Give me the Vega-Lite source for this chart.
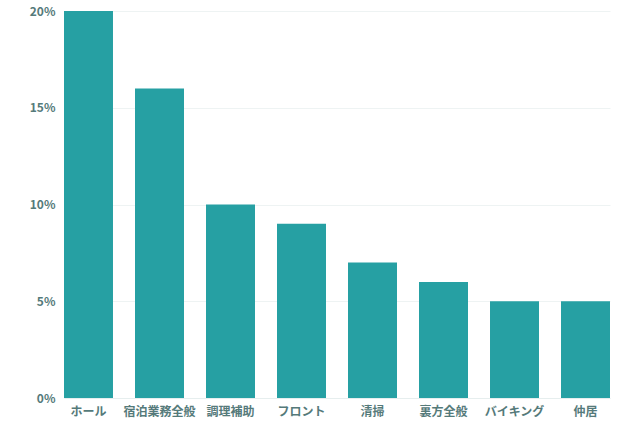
{
  "$schema": "https://vega.github.io/schema/vega-lite/v6.json",
  "autosize": {"type": "none"},
  "padding": {"left": 64, "top": 11, "right": 30, "bottom": 26},
  "width": 546,
  "height": 387,
  "background": "white",
  "data": {
    "values": [
      {"job": "ホール", "share": 0.20},
      {"job": "宿泊業務全般", "share": 0.16},
      {"job": "調理補助", "share": 0.10},
      {"job": "フロント", "share": 0.09},
      {"job": "清掃", "share": 0.07},
      {"job": "裏方全般", "share": 0.06},
      {"job": "バイキング", "share": 0.05},
      {"job": "仲居", "share": 0.05}
    ]
  },
  "mark": {"type": "bar", "color": "#26a0a3"},
  "encoding": {
    "x": {
      "field": "job",
      "type": "nominal",
      "sort": null,
      "scale": {"paddingInner": 0.31, "paddingOuter": 0},
      "axis": {
        "title": null,
        "labelAngle": 0,
        "ticks": false,
        "domain": true,
        "domainColor": "#e6eeee",
        "labelPadding": 8
      }
    },
    "y": {
      "field": "share",
      "type": "quantitative",
      "scale": {"domain": [0, 0.2], "nice": false},
      "axis": {
        "title": null,
        "format": ".0%",
        "values": [0, 0.05, 0.1, 0.15, 0.2],
        "ticks": false,
        "domain": false,
        "labelPadding": 9,
        "gridColor": "#eef3f3"
      }
    }
  },
  "config": {
    "view": {"stroke": null},
    "axis": {
      "labelFont": "Noto Sans CJK JP",
      "labelFontSize": 12,
      "labelFontWeight": "bold",
      "labelColor": "#557a7a"
    }
  }
}
